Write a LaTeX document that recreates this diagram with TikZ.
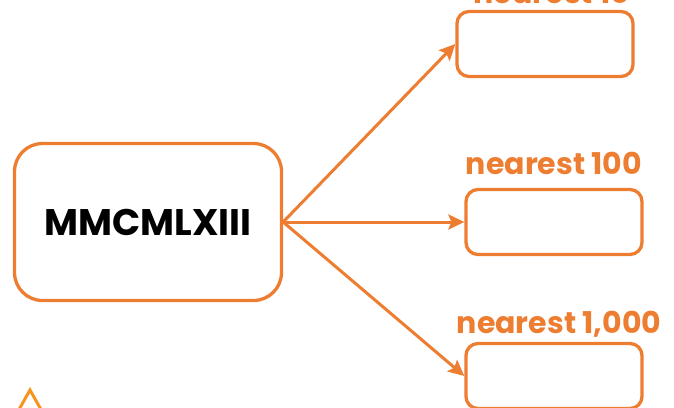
\documentclass[tikz,border=0pt]{standalone}
\usepackage{fontspec}
\setmainfont{Poppins}
\usetikzlibrary{arrows.meta}
\definecolor{boxorange}{HTML}{ED7D31}
\definecolor{logoorange}{HTML}{F7941D}

\tikzset{
  roundbox/.style={draw=boxorange, line width=3.3pt, rounded corners=12pt,
    minimum width=176pt, minimum height=65pt, inner sep=0pt},
  nearlabel/.style={text=boxorange, font=\bfseries\fontsize{30}{30}\selectfont,
    inner sep=0pt, anchor=base},
  roundarrow/.style={draw=boxorange, line width=3pt,
    -{Stealth[length=16pt,width=15pt,inset=3pt]}}
}

\begin{document}
\begin{tikzpicture}[x=1pt,y=-1pt]
\clip (0,0) rectangle (674,407);

\node[roundbox, minimum width=267pt, minimum height=157pt, rounded corners=28pt] (num) at (148,222)
  {\fontsize{37}{37}\selectfont\bfseries MMCMLXIII};

\node[roundbox] (r10) at (545,44) {};
\node[roundbox] (r100) at (554,222) {};
\node[roundbox] (r1000) at (554,376) {};

\node[nearlabel] (l10) at (552,3) {nearest 10};
\node[nearlabel] (l100) at (554,174) {nearest 100};
\node[nearlabel] (l1000) at (559,333) {nearest 1,000};

\draw[roundarrow] (num.east) -- (r10.west);
\draw[roundarrow] (num.east) -- (r100.west);
\draw[roundarrow] (num.east) -- (r1000.west);

% corner mark
\draw[logoorange, line width=3pt, line join=miter] (12,422) -- (30,390) -- (48,422);

\end{tikzpicture}
\end{document}
